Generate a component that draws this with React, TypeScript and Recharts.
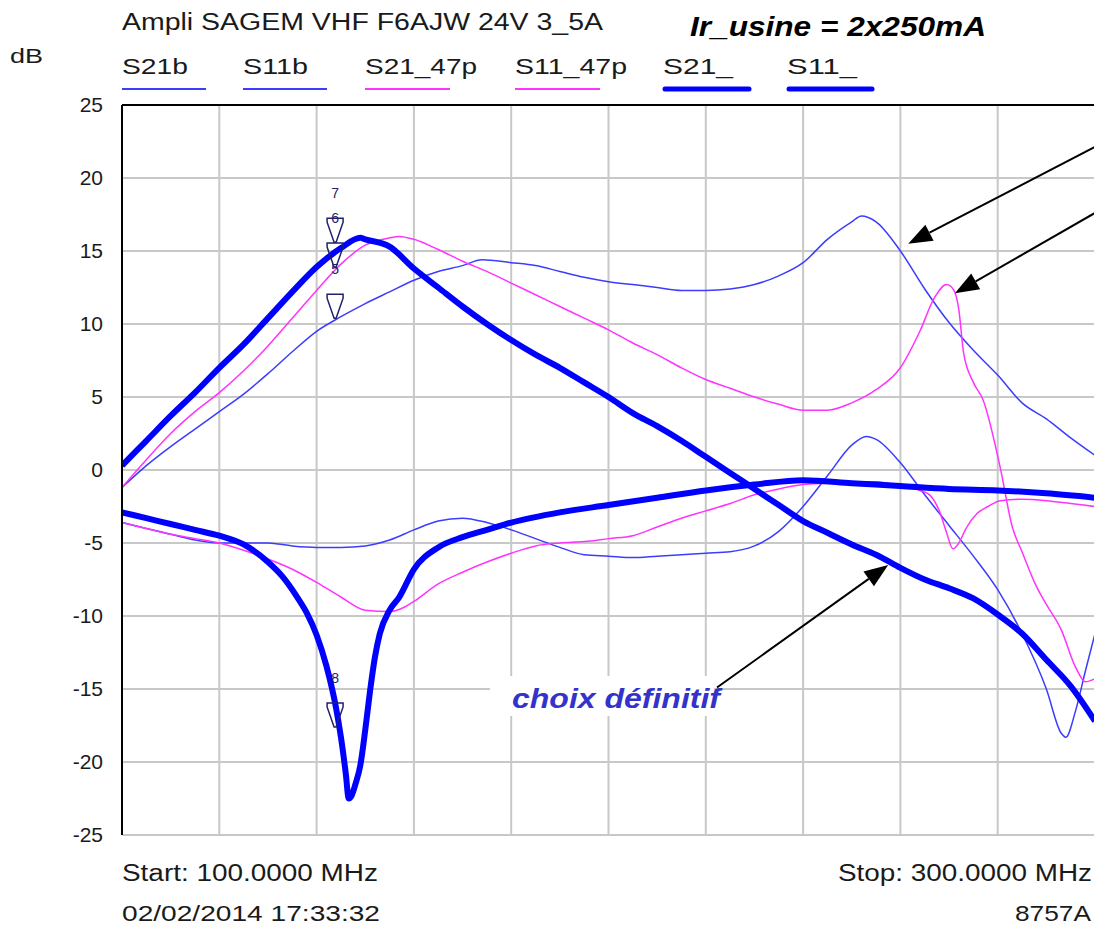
import { CartesianGrid, Line, LineChart, ReferenceDot, ReferenceLine, XAxis, YAxis } from "recharts";

const FONT = "'Liberation Sans', Arial, sans-serif";

// traces: frequency (MHz) and level (dB)
const s21bFreq = [100, 105, 110, 115, 120, 125, 130, 135, 140, 145, 150, 155, 160, 165, 170, 174, 180, 185, 190, 195, 200, 205, 210, 215, 220, 225, 230, 235, 240, 245, 250, 252, 255, 260, 265, 270, 275, 280, 285, 290, 295, 300];
const s21bDb = [-1.2, 0.3, 1.6, 2.8, 4.0, 5.2, 6.6, 8.1, 9.5, 10.5, 11.4, 12.2, 13.0, 13.6, 14.0, 14.4, 14.2, 14.0, 13.6, 13.2, 12.9, 12.7, 12.5, 12.3, 12.3, 12.4, 12.7, 13.3, 14.2, 15.8, 17.0, 17.4, 17.0, 15.0, 12.4, 10.1, 8.2, 6.5, 4.6, 3.5, 2.2, 1.0];

const s11bFreq = [100, 105, 110, 115, 120, 125, 130, 135, 140, 145, 150, 155, 160, 165, 170, 175, 180, 185, 190, 195, 200, 205, 210, 215, 220, 225, 230, 235, 240, 245, 250, 253, 255, 260, 265, 270, 275, 280, 285, 290, 293, 294, 296, 298, 300];
const s11bDb = [-3.6, -4.0, -4.4, -4.8, -5.0, -5.0, -5.0, -5.2, -5.3, -5.3, -5.2, -4.8, -4.1, -3.5, -3.3, -3.6, -4.1, -4.7, -5.3, -5.8, -5.9, -6.0, -5.9, -5.8, -5.7, -5.6, -5.2, -4.2, -2.5, -0.4, 1.7, 2.3, 2.1, 0.5, -1.7, -3.8, -5.9, -8.2, -11.2, -15.0, -18.0, -18.3, -16.5, -13.8, -11.2];

const s2147Freq = [100, 105, 110, 115, 120, 125, 130, 135, 140, 145, 150, 155, 157, 160, 165, 170, 175, 180, 185, 190, 195, 200, 205, 210, 215, 220, 225, 230, 235, 240, 245, 250, 255, 260, 264, 267, 269.5, 271, 272, 273, 275, 277, 280.5, 283, 285, 288, 290, 293, 296, 298, 300];
const s2147Db = [-1.2, 0.7, 2.5, 4.0, 5.3, 6.8, 8.5, 10.4, 12.3, 14.1, 15.4, 15.9, 16.0, 15.8, 15.1, 14.3, 13.6, 12.8, 12.0, 11.2, 10.4, 9.6, 8.7, 7.9, 7.0, 6.2, 5.6, 5.0, 4.5, 4.1, 4.1, 4.6, 5.5, 7.0, 9.5, 11.8, 12.7, 12.3, 11.0, 8.0, 6.0, 4.8, 0.2, -3.9, -5.6, -8.0, -9.2, -10.9, -13.5, -14.5, -14.3];

const s1147Freq = [100, 105, 110, 115, 120, 125, 130, 135, 140, 145, 150, 155, 158, 160, 165, 170, 175, 180, 185, 190, 195, 200, 205, 210, 215, 220, 225, 230, 235, 240, 245, 250, 255, 260, 264, 266, 268, 269.5, 270.8, 272, 273.5, 275.7, 278, 280.5, 285, 290, 295, 300];
const s1147Db = [-3.6, -4.0, -4.4, -4.7, -5.0, -5.5, -6.1, -6.8, -7.7, -8.7, -9.6, -9.7, -9.4, -9.0, -7.8, -7.0, -6.3, -5.7, -5.2, -5.0, -4.9, -4.7, -4.5, -3.9, -3.3, -2.8, -2.3, -1.7, -1.3, -1.0, -0.9, -0.8, -0.8, -1.1, -1.4, -1.7, -2.8, -4.3, -5.4, -5.0, -4.0, -3.0, -2.5, -2.1, -2.0, -2.1, -2.3, -2.5];

const s21Freq = [100, 105, 110, 115, 120, 125, 130, 135, 140, 145, 149, 150, 155, 160, 165, 170, 175, 180, 185, 190, 195, 200, 205, 210, 215, 220, 225, 230, 235, 240, 245, 250, 255, 260, 265, 270, 275, 280, 285, 290, 295, 300];
const s21Db = [0.3, 2.0, 3.7, 5.3, 7.0, 8.6, 10.4, 12.2, 13.9, 15.2, 15.9, 15.8, 15.3, 13.8, 12.5, 11.2, 10.0, 8.9, 7.9, 7.0, 6.0, 5.0, 3.9, 3.0, 2.0, 0.9, -0.2, -1.3, -2.4, -3.5, -4.3, -5.1, -5.8, -6.7, -7.5, -8.1, -8.8, -9.9, -11.2, -13.0, -14.8, -17.2];

const s11Freq = [100, 105, 110, 115, 120, 125, 130, 133, 136, 138, 140, 142, 144, 145, 146, 146.6, 147.2, 148, 149, 150, 151, 152, 153, 155, 157, 160, 165, 170, 175, 180, 190, 200, 210, 220, 230, 240, 250, 260, 270, 280, 290, 300];
const s11Db = [-2.9, -3.3, -3.7, -4.1, -4.5, -5.1, -6.3, -7.3, -8.7, -9.8, -11.3, -13.4, -16.3, -18.3, -20.8, -22.5, -22.3, -21.5, -20.2, -17.8, -15.1, -12.8, -11.2, -9.6, -8.7, -6.8, -5.3, -4.6, -4.1, -3.6, -2.9, -2.4, -1.9, -1.4, -1.0, -0.7, -0.9, -1.1, -1.3, -1.4, -1.6, -1.9];

const xTicks = [100, 120, 140, 160, 180, 200, 220, 240, 260, 280, 300];
const yTicks = [25, 20, 15, 10, 5, 0, -5, -10, -15, -20, -25];

// instrument markers
const markerNames = ["7", "6", "5", "8"];
const markerFreq = [143.8, 143.8, 143.8, 143.8];
const markerDb = [15.6, 13.9, 10.4, -17.6];

// annotation arrows (start -> tip), in MHz / dB
const arrowFromFreq = [301, 301, 222.3];
const arrowFromDb = [22.3, 17.8, -14.9];
const arrowToFreq = [261.6, 271.2, 257.5];
const arrowToDb = [15.5, 12.1, -6.5];

const toPoints = (freq: number[], db: number[]) => freq.map((f, i) => ({ f, db: db[i] }));

const series = [
  { name: "S21b", data: toPoints(s21bFreq, s21bDb), color: "#3c3cff", width: 1.5, thick: false },
  { name: "S11b", data: toPoints(s11bFreq, s11bDb), color: "#3c3cff", width: 1.5, thick: false },
  { name: "S21_47p", data: toPoints(s2147Freq, s2147Db), color: "#ff33ff", width: 1.5, thick: false },
  { name: "S11_47p", data: toPoints(s1147Freq, s1147Db), color: "#ff33ff", width: 1.5, thick: false },
  { name: "S21_", data: toPoints(s21Freq, s21Db), color: "#0000ff", width: 6, thick: true },
  { name: "S11_", data: toPoints(s11Freq, s11Db), color: "#0000ff", width: 6, thick: true },
];

// legend layout (px)
const legendX = [122, 243, 365, 515, 663, 787];
const legendTextW = [66, 65, 112, 112, 70, 70];
const legendLineW = [84, 84, 85, 85, 88, 87];

const MarkerShape = ({ cx, cy, name }: { cx?: number; cy?: number; name: string }) => {
  if (cx == null || cy == null) return null;
  const top = cy - 24;
  return (
    <g>
      <path
        d={`M${cx - 8} ${top} H${cx + 8} V${top + 4} L${cx + 1} ${cy} H${cx - 1} L${cx - 8} ${top + 4} Z`}
        fill="none"
        stroke="#20206e"
        strokeWidth={1.5}
      />
      <text x={cx} y={top - 20} textAnchor="middle" fontSize={14} fontFamily={FONT} fill="#20206e">
        {name}
      </text>
    </g>
  );
};

const ArrowShape = (p: any) => {
  const { x1, y1, x2, y2 } = p;
  if ([x1, y1, x2, y2].some((v) => v == null)) return null;
  const ang = Math.atan2(y2 - y1, x2 - x1);
  const len = 24;
  const half = 9;
  const bx = x2 - len * Math.cos(ang);
  const by = y2 - len * Math.sin(ang);
  const nx = -Math.sin(ang) * half;
  const ny = Math.cos(ang) * half;
  return (
    <g>
      <line x1={x1} y1={y1} x2={bx} y2={by} stroke="#000" strokeWidth={2} />
      <polygon points={`${x2},${y2} ${bx + nx},${by + ny} ${bx - nx},${by - ny}`} fill="#000" />
    </g>
  );
};

const NoTick = () => <g />;

export default function App() {
  return (
    <div style={{ position: "absolute", left: 0, top: 0, width: 1094, height: 927, overflow: "hidden", background: "#fff" }}>
      <LineChart width={1096} height={927} margin={{ top: 105, right: 1, bottom: 92, left: 0 }}>
        <CartesianGrid stroke="#c8c8c8" strokeWidth={2} />
        <XAxis
          type="number"
          dataKey="f"
          domain={[100, 300]}
          ticks={xTicks}
          tick={NoTick}
          tickLine={false}
          height={0}
          axisLine={{ stroke: "#333", strokeWidth: 2 }}
          allowDataOverflow
        />
        <YAxis
          type="number"
          domain={[-25, 25]}
          ticks={yTicks}
          width={122}
          tickLine={false}
          tickSize={0}
          tickMargin={19}
          axisLine={{ stroke: "#000", strokeWidth: 2 }}
          tick={{ fontSize: 21, fill: "#1a1a1a", fontFamily: FONT }}
          allowDataOverflow
        />
        <ReferenceLine y={25} stroke="#000" strokeWidth={2} />
        {series.map((s) => (
          <Line
            key={s.name}
            data={s.data}
            dataKey="db"
            name={s.name}
            type="monotone"
            stroke={s.color}
            strokeWidth={s.width}
            dot={false}
            isAnimationActive={false}
          />
        ))}
        {markerNames.map((n, i) => (
          <ReferenceDot
            key={`m${n}`}
            x={markerFreq[i]}
            y={markerDb[i]}
            r={1}
            shape={(p: any) => <MarkerShape cx={p.cx} cy={p.cy} name={n} />}
          />
        ))}
        {arrowFromFreq.map((f, i) => (
          <ReferenceLine
            key={`a${i}`}
            segment={[
              { x: f, y: arrowFromDb[i] },
              { x: arrowToFreq[i], y: arrowToDb[i] },
            ]}
            ifOverflow="visible"
            shape={ArrowShape}
          />
        ))}
      </LineChart>
      <svg
        width={1094}
        height={927}
        style={{ position: "absolute", left: 0, top: 0, pointerEvents: "none" }}
        fontFamily={FONT}
      >
        <text x={122} y={30} fontSize={23} textLength={481} lengthAdjust="spacingAndGlyphs" fill="#1a1a1a">
          Ampli SAGEM VHF F6AJW 24V 3_5A
        </text>
        <text x={690} y={36} fontSize={28} fontWeight="bold" fontStyle="italic" textLength={296} lengthAdjust="spacingAndGlyphs">
          Ir_usine = 2x250mA
        </text>
        <text x={10} y={63} fontSize={21} textLength={33} lengthAdjust="spacingAndGlyphs" fill="#1a1a1a">
          dB
        </text>
        {series.map((s, i) => (
          <g key={s.name}>
            <text x={legendX[i]} y={74} fontSize={22} textLength={legendTextW[i]} lengthAdjust="spacingAndGlyphs" fill="#1a1a1a">
              {s.name}
            </text>
            <line
              x1={legendX[i] + (s.thick ? 2 : 0)}
              x2={legendX[i] + legendLineW[i] - (s.thick ? 2 : 0)}
              y1={89}
              y2={89}
              stroke={s.color}
              strokeWidth={s.thick ? 5 : 2}
              strokeLinecap={s.thick ? "round" : "butt"}
            />
          </g>
        ))}
        <rect x={490} y={676} width={224} height={40} fill="#fff" />
        <text x={512} y={708} fontSize={27} fontWeight="bold" fontStyle="italic" fill="#3333cc" textLength={208} lengthAdjust="spacingAndGlyphs">
          choix définitif
        </text>
        <text x={122} y={881} fontSize={23} textLength={256} lengthAdjust="spacingAndGlyphs" fill="#1a1a1a">
          Start: 100.0000 MHz
        </text>
        <text x={122} y={921} fontSize={22} textLength={258} lengthAdjust="spacingAndGlyphs" fill="#1a1a1a">
          02/02/2014 17:33:32
        </text>
        <text x={838} y={881} fontSize={23} textLength={254} lengthAdjust="spacingAndGlyphs" fill="#1a1a1a">
          Stop: 300.0000 MHz
        </text>
        <text x={1015} y={921} fontSize={22} textLength={76} lengthAdjust="spacingAndGlyphs" fill="#1a1a1a">
          8757A
        </text>
      </svg>
    </div>
  );
}
